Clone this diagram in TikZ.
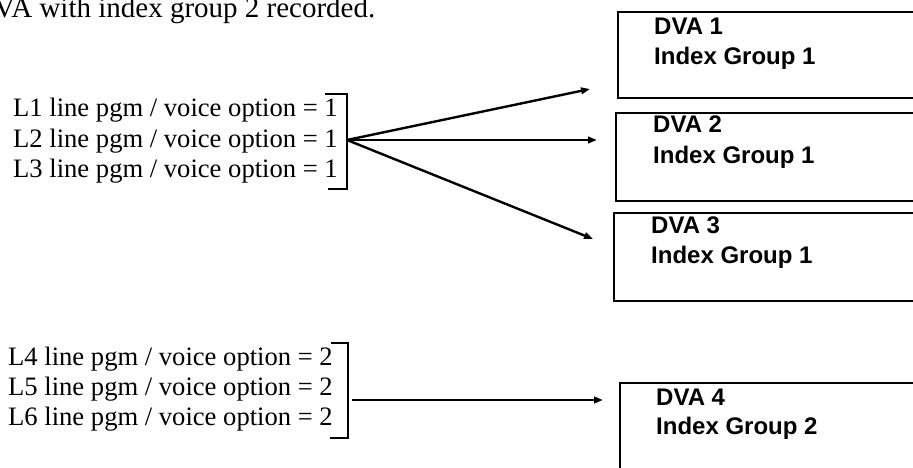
\documentclass[tikz,border=0pt]{standalone}
\usepackage{fontspec}
\setmainfont{Liberation Serif}
\setsansfont{Liberation Sans}
\usepackage{tikz}
\usetikzlibrary{calc, arrows.meta, positioning}

\begin{document}
\begin{tikzpicture}[x=1pt, y=-1pt, line width=2.4pt,
    every node/.style={inner sep=0pt},
    pgm/.style={anchor=base west, font=\fontsize{26.6}{30}\selectfont},
    dva/.style={anchor=base west, font=\sffamily\bfseries\fontsize{24}{28}\selectfont},
    dvabox/.style={draw, rectangle, anchor=north west, minimum width=330pt},
    fan/.style={-{Triangle[length=9pt, width=6.5pt]}}]
            \clip (0,0) rectangle (913,468);
            \node[pgm, font=\fontsize{29}{32}\selectfont] (title) at (-28,18) {DVA with index group 2 recorded.};

            % lines with voice option 1
            \node[pgm] (l1) at (12,117) {L1 line pgm / voice option = 1};
            \node[pgm] (l2) at ($(l1.base west)+(0,30)$) {L2 line pgm / voice option = 1};
            \node[pgm] (l3) at ($(l2.base west)+(0,30)$) {L3 line pgm / voice option = 1};
            \coordinate (b1top) at (325,94);
            \coordinate (fan1) at (347,140);
            \coordinate (b1bot) at (328,189);
            \draw (b1top) -- (b1top -| fan1) -- (b1bot -| fan1) -- (b1bot);

            % lines with voice option 2
            \node[pgm] (l4) at (7,365) {L4 line pgm / voice option = 2};
            \node[pgm] (l5) at ($(l4.base west)+(0,30)$) {L5 line pgm / voice option = 2};
            \node[pgm] (l6) at ($(l5.base west)+(0,30)$) {L6 line pgm / voice option = 2};
            \coordinate (b2top) at (331,343);
            \coordinate (fan2) at (348,400);
            \coordinate (b2bot) at (330,438);
            \draw (b2top) -- (b2top -| fan2) -- (b2bot -| fan2) -- (b2bot);

            % DVA boxes
            \node[dvabox, minimum height=86pt] (box1) at (617,11) {};
            \node[dvabox, minimum height=88pt] (box2) at (615,112) {};
            \node[dvabox, minimum height=88pt] (box3) at (613,212) {};
            \node[dvabox, minimum height=100pt] (box4) at (619,382) {};
            \node[dva] (dva1) at (653,35) {DVA 1};
            \node[dva] (grp1) at ($(dva1.base west)+(0,30)$) {Index Group 1};
            \node[dva] (dva2) at (652,133) {DVA 2};
            \node[dva] (grp2) at ($(dva2.base west)+(0,31)$) {Index Group 1};
            \node[dva] (dva3) at (650,233) {DVA 3};
            \node[dva] (grp3) at ($(dva3.base west)+(0,30)$) {Index Group 1};
            \node[dva] (dva4) at (655,405) {DVA 4};
            \node[dva] (grp4) at ($(dva4.base west)+(0,29)$) {Index Group 2};

            % arrows
            \coordinate (to1) at (590,89);
            \coordinate (to2) at (597,140);
            \coordinate (to3) at (593,239);
            \coordinate (to4) at (603,400);
            \draw[fan] (fan1) -- (to1);
            \draw[fan] (fan1) -- (to2);
            \draw[fan] (fan1) -- (to3);
            \draw[fan] ($(fan2)+(4,0)$) -- (to4);
        \end{tikzpicture}
\end{document}
